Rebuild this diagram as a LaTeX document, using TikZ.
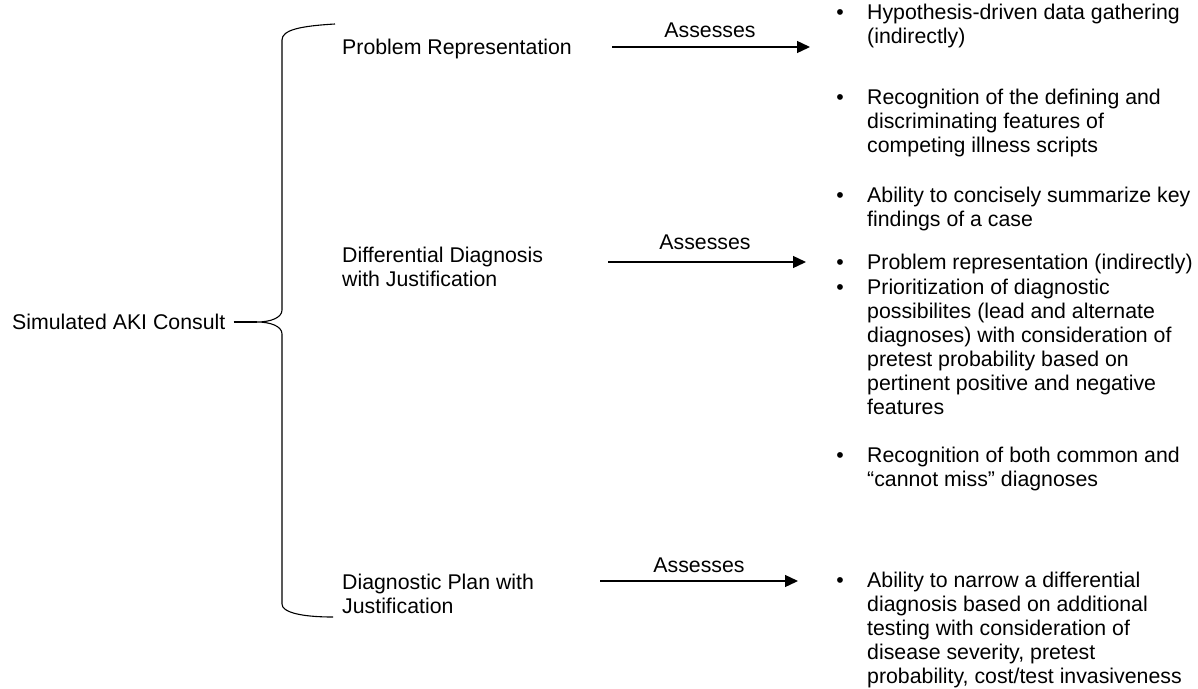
\documentclass[tikz,border=0pt]{standalone}
\usepackage{fontspec}
\setmainfont{Liberation Sans}
\usetikzlibrary{arrows.meta,positioning}
\newcommand{\Lines}[1]{\begin{tabular}[t]{@{}l@{}}#1\end{tabular}}
\newcommand{\Rel}{Assesses}
\newcommand{\Bul}{\textbullet}
\tikzstyle{txt} = [anchor=base west, inner sep=0pt, font=\fontsize{21.3}{24.1}\selectfont]
\tikzstyle{bul} = [anchor=base, inner sep=0pt, font=\fontsize{21.3}{24.1}\selectfont]
\tikzstyle{lbl} = [anchor=base, inner sep=0pt, font=\fontsize{21.3}{24.1}\selectfont]
\tikzstyle{assess} = [-{Triangle[length=13pt,width=12pt]}, line width=1.3pt]

\begin{document}
\begin{tikzpicture}[x=1pt, y=-1pt]
\useasboundingbox (0,0) rectangle (1198,688);

% Define nodes
\node[txt] (aki) at (12,329) {Simulated AKI Consult};
\node[txt] (pr)  at (342,54)  {Problem Representation};
\node[txt] (dd)  at (342,262) {\Lines{Differential Diagnosis\\with Justification}};
\node[txt] (dp)  at (342,589) {\Lines{Diagnostic Plan with\\Justification}};

\coordinate (tip) at (257,322);

% arrows and their labels
\coordinate (a1s) at (612,47);
\coordinate (a1e) at (810,47);
\coordinate (a2s) at (608,262);
\coordinate (a2e) at (806,262);
\coordinate (a3s) at (600,581);
\coordinate (a3e) at (798,581);
\node[lbl] (l1) at (710,37)  {\Rel};
\node[lbl] (l2) at (705,249) {\Rel};
\node[lbl] (l3) at (699,572) {\Rel};

% bullets
\node[bul] (b1) at (840,19)  {\Bul};
\node[bul] (b2) at (840,104) {\Bul};
\node[bul] (b3) at (840,202) {\Bul};
\node[bul] (b4) at (840,269) {\Bul};
\node[bul] (b5) at (840,294) {\Bul};
\node[bul] (b6) at (840,462) {\Bul};
\node[bul] (b7) at (840,587) {\Bul};

\node[txt] (t1) at (867,19)  {\Lines{Hypothesis-driven data gathering\\(indirectly)}};
\node[txt] (t2) at (867,104) {\Lines{Recognition of the defining and\\discriminating features of\\competing illness scripts}};
\node[txt] (t3) at (867,202) {\Lines{Ability to concisely summarize key\\findings of a case}};
\node[txt] (t4) at (867,269) {Problem representation (indirectly)};
\node[txt] (t5) at (867,294) {\Lines{Prioritization of diagnostic\\possibilites (lead and alternate\\diagnoses) with consideration of\\pretest probability based on\\pertinent positive and negative\\features}};
\node[txt] (t6) at (867,462) {\Lines{Recognition of both common and\\``cannot miss'' diagnoses}};
\node[txt] (t7) at (867,587) {\Lines{Ability to narrow a differential\\diagnosis based on additional\\testing with consideration of\\disease severity, pretest\\probability, cost/test invasiveness}};

% Edges
\draw[line width=1.1pt] (335,24) .. controls (300,26) and (282,30) .. (282,40)
  -- (282,310) .. controls (282,318) and (270,322) .. (tip)
  .. controls (270,322) and (282,326) .. (282,334)
  -- (282,604) .. controls (282,612) and (300,617) .. (333,617);
\draw[line width=1.1pt] ([xshift=8pt]aki.east |- tip) -- (tip);

\draw[assess] (a1s) -- (a1e);
\draw[assess] (a2s) -- (a2e);
\draw[assess] (a3s) -- (a3e);
\end{tikzpicture}
\end{document}
